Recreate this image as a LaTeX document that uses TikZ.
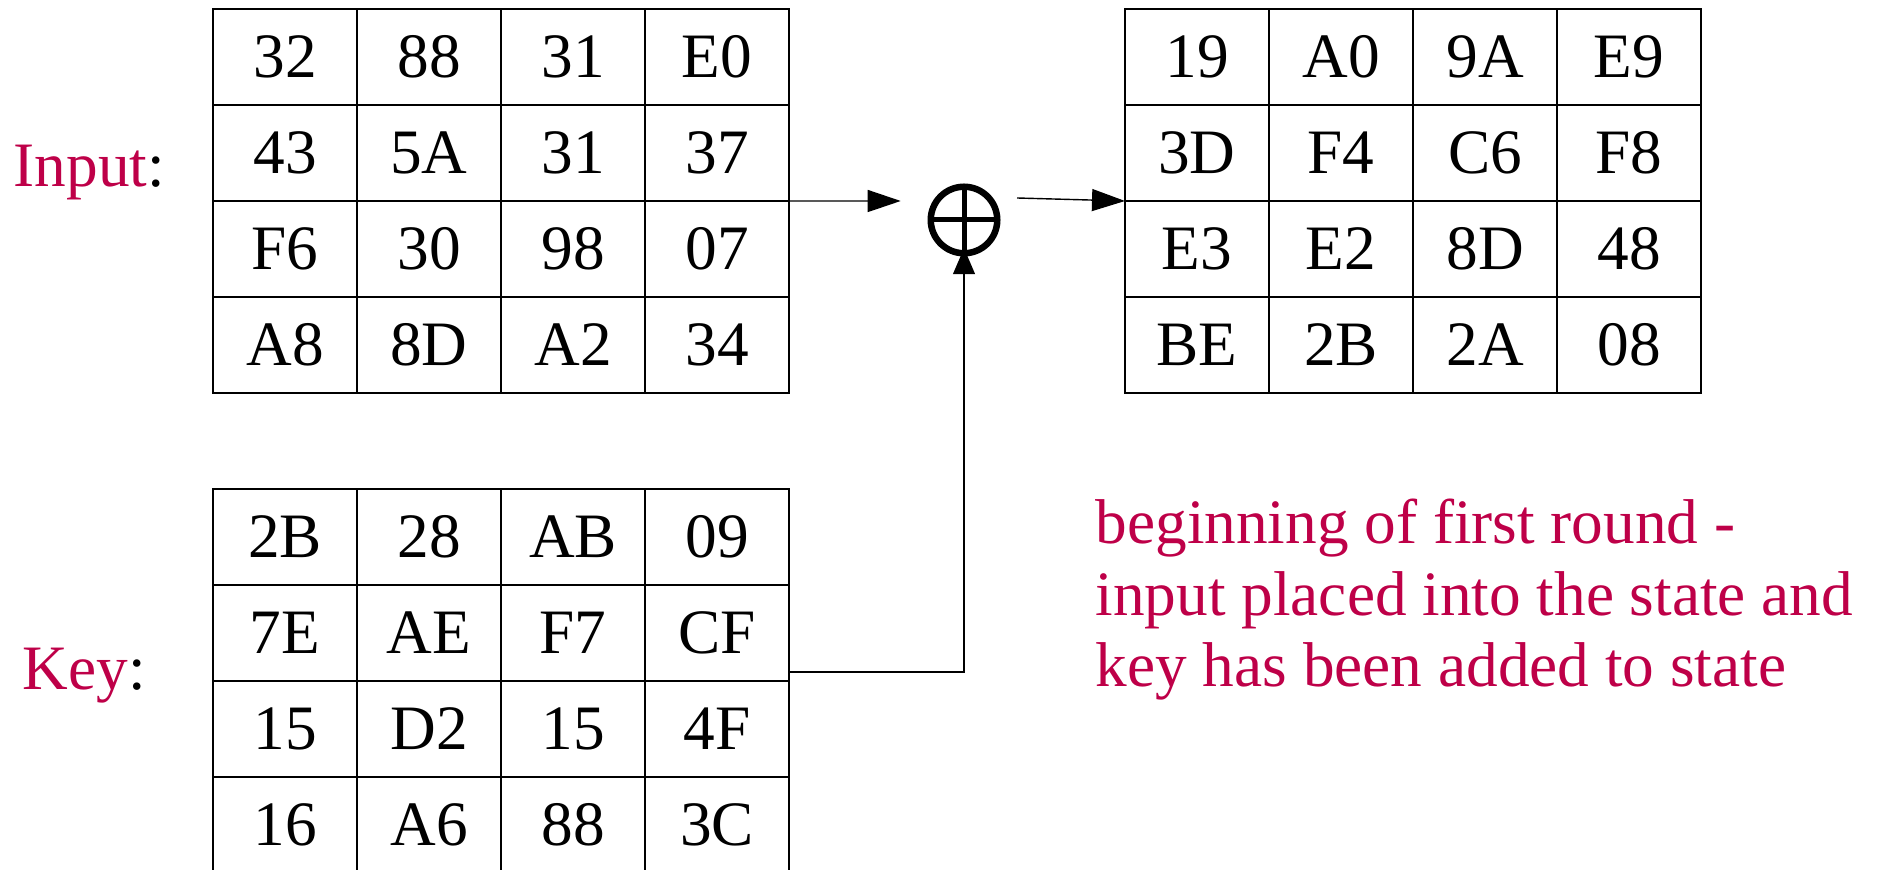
\documentclass[tikz,border=0pt]{standalone}
\usepackage{fontspec}
\setmainfont{Liberation Serif}
\usetikzlibrary{arrows.meta}
\definecolor{rojo}{RGB}{190,0,72}

\begin{document}
\begin{tikzpicture}[line width=0.4pt,>={Triangle[length=3.3mm,width=2.2mm]},
  celda/.style={draw,minimum width=1.44cm,minimum height=0.96cm,inner sep=0pt,outer sep=0pt},
  every node/.style={font=\fontsize{18pt}{20.3pt}\selectfont}]
  \useasboundingbox (0,0) rectangle (18.8,-8.7);
  % estado de entrada
  \foreach \r/\fila in {1/{32,88,31,E0},2/{43,5A,31,37},3/{F6,30,98,07},4/{A8,8D,A2,34}}{
    \foreach \v [count=\c] in \fila
      \node[celda] (in-\r-\c) at ({2.13+1.44*(\c-0.5)},{-0.09-0.96*(\r-0.5)}) {\v};
  }
  % clave
  \foreach \r/\fila in {1/{2B,28,AB,09},2/{7E,AE,F7,CF},3/{15,D2,15,4F},4/{16,A6,88,3C}}{
    \foreach \v [count=\c] in \fila
      \node[celda] (key-\r-\c) at ({2.13+1.44*(\c-0.5)},{-4.89-0.96*(\r-0.5)}) {\v};
  }
  % estado tras sumar la clave
  \foreach \r/\fila in {1/{19,A0,9A,E9},2/{3D,F4,C6,F8},3/{E3,E2,8D,48},4/{BE,2B,2A,08}}{
    \foreach \v [count=\c] in \fila
      \node[celda] (out-\r-\c) at ({11.25+1.44*(\c-0.5)},{-0.09-0.96*(\r-0.5)}) {\v};
  }
  \node[anchor=base west,inner sep=0pt] (lblin) at (0.13,-1.87) {\color{rojo}Input\color{black}:};
  \node[anchor=base west,inner sep=0pt] (lblkey) at (0.22,-6.90) {\color{rojo}Key\color{black}:};

  % XOR
  \node[circle,draw,line width=0.065cm,minimum size=0.665cm,inner sep=0pt,outer sep=0pt] (xor) at (9.64,-2.20) {};
  \draw[line width=0.05cm] (xor.north)--(xor.south) (xor.west)--(xor.east);
  \coordinate (xin) at (9.007,-2.01);
  \coordinate (xout) at (10.17,-1.98);
  \draw[->] (in-2-4.south east)--(xin);
  \draw[->] (xout)--(out-2-1.south west);
  \draw[-{Triangle[length=2.6mm,width=2.2mm]},shorten >=-0.05cm] ([yshift=0.09cm]key-2-4.south east) -| (xor.south);

  \node[anchor=base west,inner sep=0pt,align=left,text=rojo] (nota) at (10.95,-6.866)
    {beginning of first round -\\input placed into the state and\\key has been added to state};
\end{tikzpicture}
\end{document}
